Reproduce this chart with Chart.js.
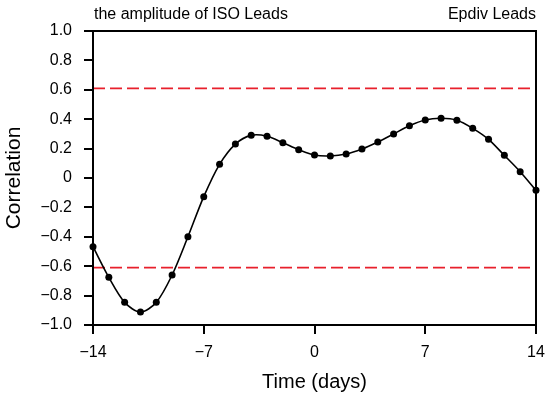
<!DOCTYPE html>
<html>
<head>
<meta charset="utf-8">
<script src="https://cdn.jsdelivr.net/npm/chart.js@4"></script>
<style>
  html, body { margin: 0; padding: 0; background: #fff; }
  #wrap { width: 550px; height: 398px; }
</style>
</head>
<body>
<div id="wrap"><canvas id="corrChart"></canvas></div>
<script>
// lead time in days and correlation
const days = [-14, -13, -12, -11, -10, -9, -8, -7, -6, -5, -4, -3, -2, -1, 0,
              1, 2, 3, 4, 5, 6, 7, 8, 9, 10, 11, 12, 13, 14];
const correlation = [-0.467, -0.676, -0.846, -0.912, -0.846, -0.66, -0.40, -0.127, 0.093, 0.231,
                     0.29, 0.284, 0.24, 0.193, 0.156, 0.15, 0.163, 0.197, 0.245, 0.30,
                     0.356, 0.395, 0.406, 0.393, 0.338, 0.263, 0.154, 0.043, -0.084];
// significance level lines
const sigLevel = 0.61;
const xTicks = [-14, -7, 0, 7, 14];

const fontFamily = "'Liberation Sans', Arial, Helvetica, sans-serif";
const redDash = 'rgb(232, 32, 44)';

const pts = days.map((d, i) => ({ x: d, y: correlation[i] }));
const sigUpper = [{ x: days[0], y: sigLevel }, { x: days[days.length - 1], y: sigLevel }];
const sigLower = [{ x: days[0], y: -sigLevel }, { x: days[days.length - 1], y: -sigLevel }];

function fmtY(v) {
    if (Math.abs(v) < 1e-9) return '0';
    return v.toFixed(1).replace('-', '\u2212');
}
function fmtX(v) {
    return String(Math.round(v)).replace('-', '\u2212');
}

// frame + the two header texts
const framePlugin = {
    id: 'frame',
    afterDraw(chart) {
        const { ctx, chartArea } = chart;
        ctx.save();
        ctx.strokeStyle = '#000';
        ctx.lineWidth = 2;
        ctx.strokeRect(chartArea.left, chartArea.top, chartArea.right - chartArea.left, chartArea.bottom - chartArea.top);
        ctx.fillStyle = '#000';
        ctx.font = '16px ' + fontFamily;
        ctx.textBaseline = 'middle';
        ctx.textAlign = 'left';
        ctx.fillText('the amplitude of ISO Leads', chartArea.left + 1, 15);
        ctx.textAlign = 'right';
        ctx.fillText('Epdiv Leads', chartArea.right, 15);
        ctx.restore();
    }
};

const ctx = document.getElementById('corrChart').getContext('2d');
new Chart(ctx, {
    type: 'line',
    data: {
        datasets: [{
            label: 'correlation',
            data: pts,
            borderColor: '#000',
            backgroundColor: '#000',
            borderWidth: 1.6,
            pointRadius: 3.5,
            pointBackgroundColor: '#000',
            pointBorderWidth: 0,
            tension: 0.3,
            clip: false
        },
        {
            label: 'upper',
            data: sigUpper,
            borderColor: redDash,
            borderWidth: 1.6,
            borderDash: [12, 5],
            pointRadius: 0
        },
        {
            label: 'lower',
            data: sigLower,
            borderColor: redDash,
            borderWidth: 1.6,
            borderDash: [12, 5],
            pointRadius: 0
        }]
    },
    options: {
        responsive: true,
        maintainAspectRatio: false,
        animation: false,
        layout: { padding: { top: 31, right: 14, left: 0, bottom: 0 } },
        plugins: {
            legend: { display: false },
            tooltip: { enabled: false }
        },
        scales: {
            x: {
                type: 'linear',
                min: -14,
                max: 14,
                afterBuildTicks: (scale) => { scale.ticks = xTicks.map(v => ({ value: v })); },
                afterFit: (scale) => {
                    scale.height = 73;
                    scale.paddingLeft = 0;
                    scale.paddingRight = 0;
                },
                grid: { drawOnChartArea: false, drawTicks: true, tickLength: 9, color: '#000', lineWidth: 2 },
                border: { display: true, color: '#000', width: 2 },
                ticks: {
                    color: '#000',
                    padding: 9,
                    font: { family: fontFamily, size: 16 },
                    callback: (v) => fmtX(v),
                    maxRotation: 0
                },
                title: {
                    display: true,
                    text: 'Time (days)',
                    color: '#000',
                    font: { family: fontFamily, size: 20 },
                    padding: { top: 0, bottom: 4 }
                }
            },
            y: {
                min: -1,
                max: 1,
                afterFit: (scale) => { scale.width = 93; },
                grid: { drawOnChartArea: false, drawTicks: true, tickLength: 9, color: '#000', lineWidth: 2 },
                border: { display: true, color: '#000', width: 2 },
                ticks: {
                    stepSize: 0.2,
                    color: '#000',
                    padding: 12,
                    font: { family: fontFamily, size: 16 },
                    callback: (v) => fmtY(v)
                },
                title: {
                    display: true,
                    text: 'Correlation',
                    color: '#000',
                    font: { family: fontFamily, size: 21 },
                    padding: { top: 2, bottom: 0 }
                }
            }
        }
    },
    plugins: [framePlugin]
});
</script>
</body>
</html>
